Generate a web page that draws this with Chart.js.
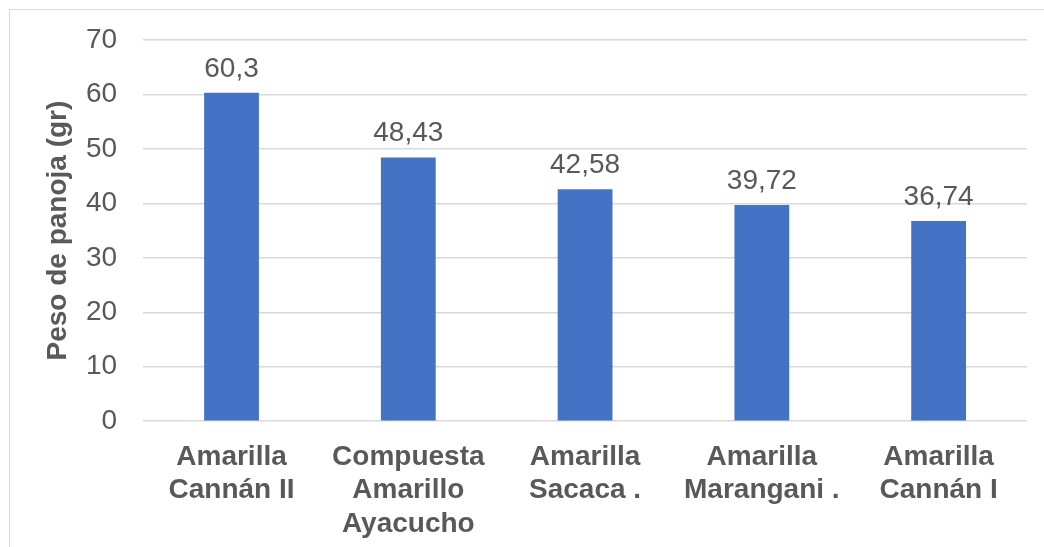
<!DOCTYPE html>
<html>
<head>
<meta charset="utf-8">
<script src="https://cdn.jsdelivr.net/npm/chart.js@4.4.0/dist/chart.umd.min.js"></script>
<style>
  html, body { margin: 0; padding: 0; background: #fff; }
  #wrap { position: absolute; left: 0; top: 0; width: 1044px; height: 547px; }
  #frame { position: absolute; left: 9px; top: 9px; width: 1100px; height: 600px; border: 1px solid #d9d9d9; box-sizing: border-box; }
  canvas { position: absolute; left: 0; top: 0; }
</style>
</head>
<body>
<div id="frame"></div>
<div id="wrap"><canvas id="c" width="1044" height="547"></canvas></div>
<script>
const categories = [
  ["Amarilla", "Cannán II"],
  ["Compuesta", "Amarillo", "Ayacucho"],
  ["Amarilla", "Sacaca ."],
  ["Amarilla", "Marangani ."],
  ["Amarilla", "Cannán I"]
];
const pesoValues = [60.3, 48.43, 42.58, 39.72, 36.74];
const yTicks = { min: 0, max: 70, step: 10 };
const yTitle = "Peso de panoja (gr)";

const textColor = "#595959";
const fontFamily = "'Liberation Sans', Arial, sans-serif";

const labelPlugin = {
  id: "barLabels",
  afterDatasetsDraw(chart) {
    const ctx = chart.ctx;
    const meta = chart.getDatasetMeta(0);
    ctx.save();
    ctx.fillStyle = textColor;
    ctx.font = "28px " + fontFamily;
    ctx.textAlign = "center";
    ctx.textBaseline = "alphabetic";
    meta.data.forEach((bar, i) => {
      const txt = String(pesoValues[i]).replace(".", ",");
      ctx.fillText(txt, bar.x, bar.y - 16);
    });
    ctx.restore();
  }
};

new Chart(document.getElementById("c"), {
  type: "bar",
  data: {
    labels: categories,
    datasets: [{
      data: pesoValues,
      backgroundColor: "#4472C4",
      borderWidth: 0,
      categoryPercentage: 1.0,
      barPercentage: 0.31
    }]
  },
  options: {
    responsive: false,
    animation: false,
    devicePixelRatio: 1,
    layout: { padding: { left: 44, right: 17, top: 40, bottom: -13 } },
    plugins: { legend: { display: false }, tooltip: { enabled: false } },
    scales: {
      x: {
        grid: { display: false, drawTicks: false },
        border: { display: false },
        ticks: {
          color: textColor,
          font: { family: fontFamily, size: 28, weight: "bold", lineHeight: 1.2 },
          padding: 19,
          maxRotation: 0,
          autoSkip: false
        }
      },
      y: {
        min: yTicks.min,
        max: yTicks.max,
        grid: { color: "#d9d9d9", lineWidth: 1.5, drawTicks: false },
        border: { display: false },
        ticks: {
          stepSize: yTicks.step,
          color: textColor,
          font: { family: fontFamily, size: 28, lineHeight: 0.5 },
          padding: 26
        },
        title: {
          display: true,
          text: yTitle,
          color: textColor,
          font: { family: fontFamily, size: 28, weight: "bold", lineHeight: 1.0 },
          padding: { top: 0, bottom: -12 }
        }
      }
    }
  },
  plugins: [labelPlugin]
});
</script>
</body>
</html>
